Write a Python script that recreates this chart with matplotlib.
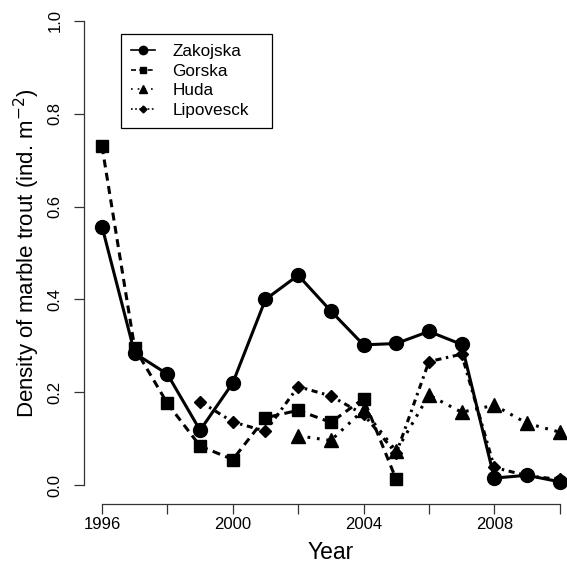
import matplotlib
matplotlib.use("Agg")
import matplotlib.pyplot as plt
from matplotlib.lines import Line2D

plt.rcParams['font.family'] = ['Liberation Sans', 'DejaVu Sans']

years_zak = [1996, 1997, 1998, 1999, 2000, 2001, 2002, 2003, 2004, 2005, 2006, 2007, 2008, 2009, 2010]
zakojska = [0.557, 0.284, 0.239, 0.118, 0.220, 0.400, 0.452, 0.375, 0.302, 0.305, 0.331, 0.303, 0.015, 0.021, 0.007]

years_gor = [1996, 1997, 1998, 1999, 2000, 2001, 2002, 2003, 2004, 2005]
gorska = [0.730, 0.295, 0.176, 0.084, 0.055, 0.145, 0.161, 0.135, 0.186, 0.012]

years_hud = [2002, 2003, 2004, 2005, 2006, 2007, 2008, 2009, 2010]
huda = [0.106, 0.096, 0.162, 0.073, 0.194, 0.157, 0.172, 0.133, 0.114]

years_lip = [1999, 2000, 2001, 2002, 2003, 2004, 2005, 2006, 2007, 2008, 2009, 2010]
lipovesck = [0.180, 0.136, 0.116, 0.212, 0.192, 0.152, 0.068, 0.266, 0.282, 0.038, 0.020, 0.012]

series_names = ["Zakojska", "Gorska", "Huda", "Lipovesck"]
x_ticks = [1996, 1998, 2000, 2002, 2004, 2006, 2008, 2010]
x_labels = ["1996", "", "2000", "", "2004", "", "2008", ""]
y_ticks = [0.0, 0.2, 0.4, 0.6, 0.8, 1.0]
y_labels = ["0.0", "0.2", "0.4", "0.6", "0.8", "1.0"]

W, H = 567, 564
fig = plt.figure(figsize=(W / 100, H / 100), dpi=100)
left_px, right_px, bottom_px, top_px = 83.7, 578.0, 503.6, 2.4
ax = fig.add_axes([left_px / W, 1 - bottom_px / H, (right_px - left_px) / W, (bottom_px - top_px) / H])
ax.set_xlim(1995.44, 2010.56)
ax.set_ylim(-0.04, 1.04)

lw = 2.2
styles = [
    dict(linestyle='-', marker='o', markersize=10),
    dict(linestyle=(0, (2.6, 1.8)), marker='s', markersize=8.5),
    dict(linestyle=(0, (0.9, 2.2)), marker='^', markersize=9.5),
    dict(linestyle=(0, (2.0, 1.5, 0.8, 1.5)), marker='D', markersize=6.5),
]
data = [(years_zak, zakojska), (years_gor, gorska), (years_hud, huda), (years_lip, lipovesck)]
for (xs, ys), st, name in zip(data, styles, series_names):
    ax.plot(xs, ys, color='black', linewidth=lw, markerfacecolor='black',
            markeredgecolor='black', label=name, clip_on=False, **st)

for s in ['top', 'right']:
    ax.spines[s].set_visible(False)
ax.spines['left'].set_bounds(0, 1)
ax.spines['bottom'].set_bounds(1996, 2010)
for s in ['left', 'bottom']:
    ax.spines[s].set_linewidth(0.9)
    ax.spines[s].set_color('#333333')

ax.set_xticks(x_ticks)
ax.set_xticklabels(x_labels, fontsize=12)
ax.set_yticks(y_ticks)
ax.set_yticklabels(y_labels, fontsize=12, rotation=90, va='center')
ax.tick_params(axis='both', direction='out', length=7, width=0.9, color='#333333')
ax.tick_params(axis='x', pad=3)
ax.tick_params(axis='y', pad=8)

ax.set_xlabel("Year", fontsize=16.5, labelpad=6)
ax.set_ylabel("Density of marble trout (ind. m$^{-2}$)", fontsize=16, labelpad=4)

handles = [
    Line2D([], [], color='black', linewidth=1.2, linestyle='-', marker='o', markersize=6),
    Line2D([], [], color='black', linewidth=1.2, linestyle=(0, (3, 2)), marker='s', markersize=5),
    Line2D([], [], color='black', linewidth=1.2, linestyle=(0, (1, 3)), marker='^', markersize=5.5),
    Line2D([], [], color='black', linewidth=1.2, linestyle=(0, (1, 1.5)), marker='D', markersize=3.5),
]
leg = fig.legend(handles, series_names, loc='upper left',
                 bbox_to_anchor=(121 / W, 1 - 128 / H, 151 / W, 94 / H), mode='expand',
                 fontsize=12.3,
                 frameon=True, fancybox=False, edgecolor='black', framealpha=1,
                 handlelength=1.4, handletextpad=1.0, labelspacing=0.27,
                 borderpad=0.6, borderaxespad=0)
leg.get_frame().set_linewidth(0.9)

fig.savefig("out.png", dpi=100)
